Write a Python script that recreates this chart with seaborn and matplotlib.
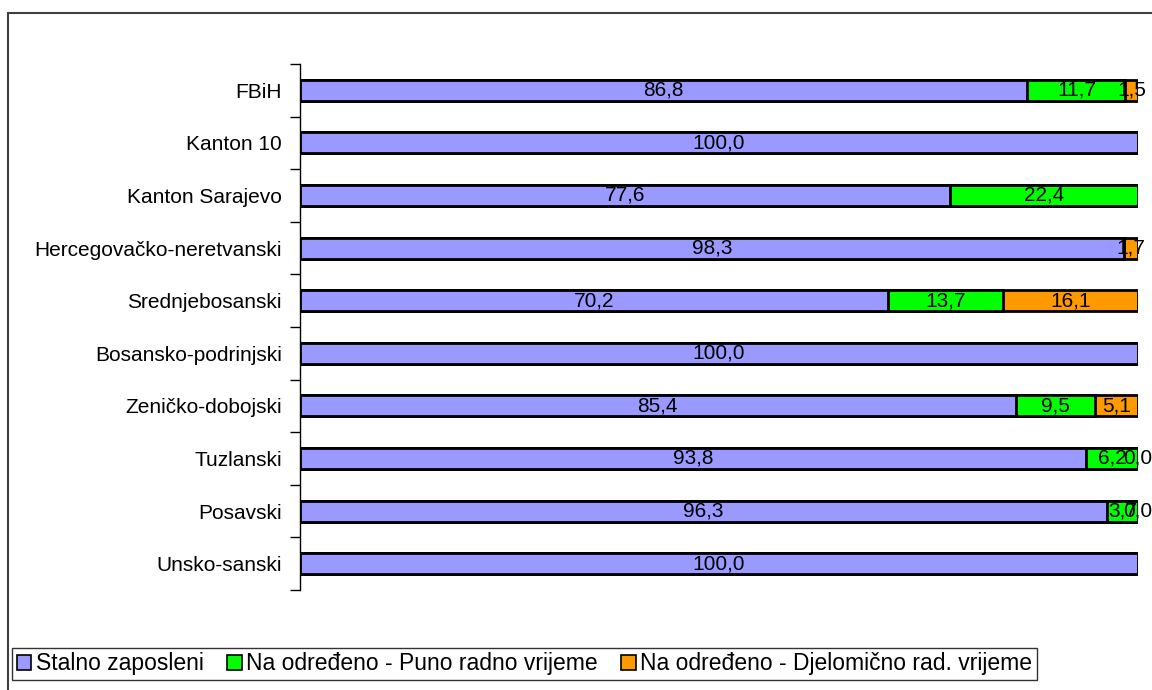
import numpy as np
import pandas as pd
import matplotlib
matplotlib.use('Agg')
import matplotlib.pyplot as plt
import seaborn as sns
from matplotlib.patches import Patch, Rectangle

# categories, top to bottom
kantoni = ['FBiH', 'Kanton 10', 'Kanton Sarajevo', 'Hercegovačko-neretvanski',
           'Srednjebosanski', 'Bosansko-podrinjski', 'Zeničko-dobojski',
           'Tuzlanski', 'Posavski', 'Unsko-sanski']

# shares in percent (None = no data label)
stalno = [86.8, 100.0, 77.6, 98.3, 70.2, 100.0, 85.4, 93.8, 96.3, 100.0]
puno_vrijeme = [11.7, None, 22.4, None, 13.7, None, 9.5, 6.2, 3.7, None]
djelomicno = [1.5, None, None, 1.7, 16.1, None, 5.1, 0.0, 0.0, None]

serije = ['Stalno zaposleni', 'Na određeno - Puno radno vrijeme',
          'Na određeno - Djelomično rad. vrijeme']
boje = ['#9999FF', '#00FF00', '#FF9900']

sns.set_style('white')
plt.rcParams['font.family'] = ['Liberation Sans', 'DejaVu Sans']
plt.rcParams['text.color'] = 'black'
plt.rcParams['ytick.color'] = 'black'
plt.rcParams['ytick.labelcolor'] = 'black'

df = pd.DataFrame({'kanton': kantoni, 's1': stalno, 's2': puno_vrijeme, 's3': djelomicno})
vals = df[['s1', 's2', 's3']].astype(float)
cum = vals.fillna(0).cumsum(axis=1)

fig = plt.figure(figsize=(11.52, 6.9), dpi=100)
ax = fig.add_axes([300 / 1152, 1 - 590 / 690, 838 / 1152, 526 / 690])

# stacked bars: draw cumulative totals, widest first
for col, boja in zip(['s3', 's2', 's1'], boje[::-1]):
    sns.barplot(x=cum[col], y=df['kanton'], orient='h', color=boja, saturation=1,
                edgecolor='black', linewidth=2, width=0.4, errorbar=None, ax=ax)

# data labels centred in segments
fs = 15
for i in range(len(df)):
    for j, col in enumerate(['s1', 's2', 's3']):
        v = vals.loc[i, col]
        if np.isnan(v):
            continue
        mid = cum.loc[i, col] - v / 2
        ax.text(mid, i, f'{v:.1f}'.replace('.', ','), ha='center', va='center',
                fontsize=fs, color='black', clip_on=False)

ax.set_xlim(0, 100)
ax.set_ylim(len(kantoni) - 0.5, -0.5)
ax.set_xlabel('')
ax.set_ylabel('')
ax.set_xticks([])
ax.tick_params(axis='y', which='major', length=0, labelsize=fs, pad=13, labelcolor='black')
ax.set_yticks(np.arange(-0.5, len(kantoni)), minor=True)
ax.tick_params(axis='y', which='minor', left=True, length=7, width=1, color='black',
               direction='out')
for s in ['top', 'right', 'bottom']:
    ax.spines[s].set_visible(False)
ax.spines['left'].set_color('black')
ax.spines['left'].set_linewidth(1)

# outer chart frame
fig.add_artist(Rectangle((8 / 1152, -0.1), 1.2, 1.1 - 13 / 690, transform=fig.transFigure,
                         fill=False, edgecolor='#404040', linewidth=1.5, clip_on=False))

handles = [Patch(facecolor=b, edgecolor='black', linewidth=1.2) for b in boje]
leg = fig.legend(handles, serije, loc='lower left', bbox_to_anchor=(12 / 1152, 1 - 680 / 690),
                 ncol=3, fontsize=16.5, frameon=True, fancybox=False, borderpad=0.2,
                 handlelength=0.65, handleheight=0.65, handletextpad=0.2, columnspacing=1.0,
                 borderaxespad=0)
leg.get_frame().set_edgecolor('black')
leg.get_frame().set_linewidth(1)

fig.savefig('out.png', dpi=100)
